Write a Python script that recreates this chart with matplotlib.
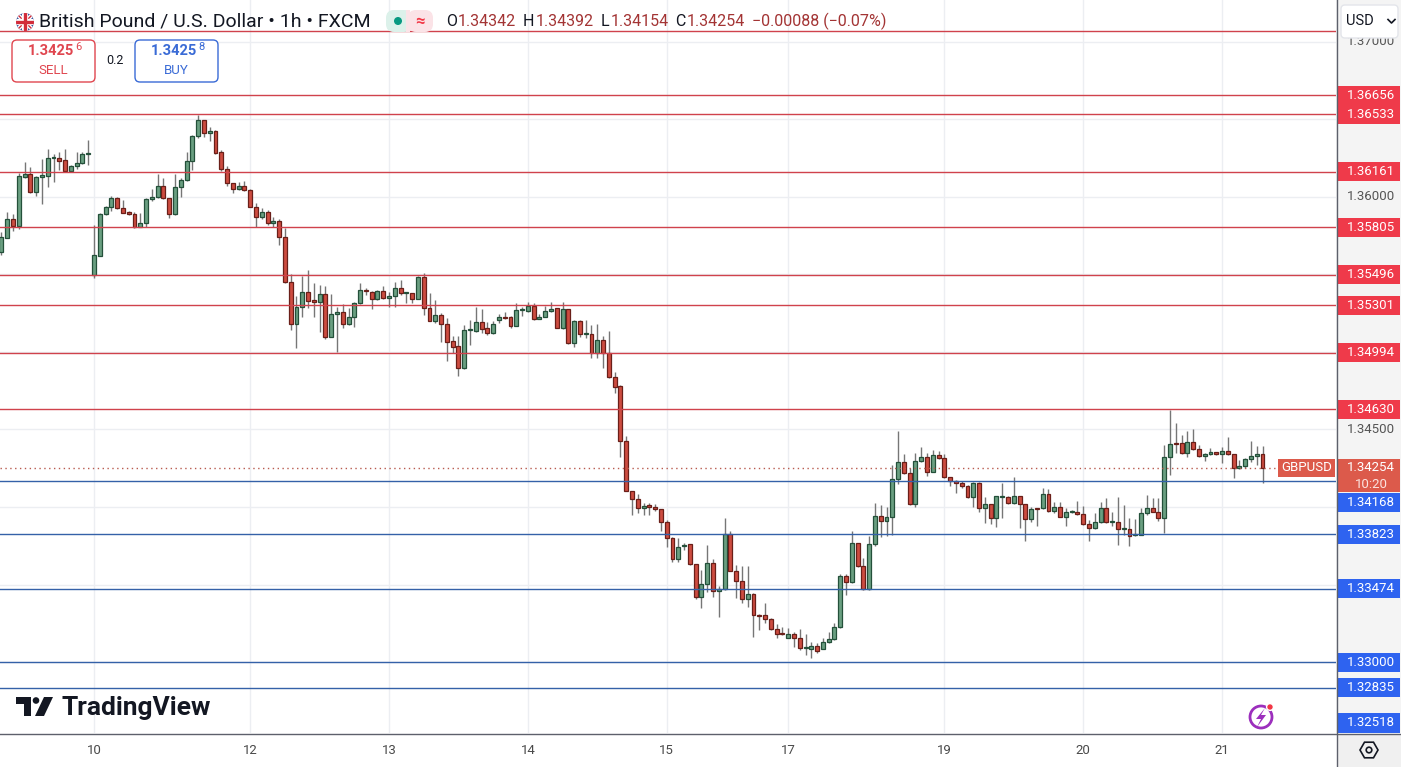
import numpy as np
import matplotlib
matplotlib.use("Agg")
import matplotlib.pyplot as plt
import matplotlib.transforms as mtransforms
from matplotlib.patches import Rectangle, FancyBboxPatch, Circle, Polygon, RegularPolygon

plt.rcParams['font.family'] = ['Roboto', 'DejaVu Sans']

# hourly candles, GBP/USD (FXCM)
opens = [
    1.35646, 1.35736, 1.35857, 1.35814, 1.36130, 1.36146, 1.36029, 1.36126, 1.36136, 1.36248,
    1.36248, 1.36235, 1.36168, 1.36199, 1.36216, 1.36279, 1.35496, 1.35621, 1.35887, 1.35936,
    1.35990, 1.35926, 1.35900, 1.35887, 1.35807, 1.35833, 1.35984, 1.35997, 1.36072, 1.35990,
    1.35887, 1.36065, 1.36106, 1.36233, 1.36392, 1.36495, 1.36409, 1.36424, 1.36287, 1.36178,
    1.36087, 1.36048, 1.36068, 1.36046, 1.35936, 1.35868, 1.35900, 1.35829, 1.35842, 1.35739,
    1.35449, 1.35178, 1.35291, 1.35388, 1.35335, 1.35321, 1.35373, 1.35098, 1.35243, 1.35256,
    1.35178, 1.35228, 1.35313, 1.35399, 1.35388, 1.35339, 1.35394, 1.35346, 1.35360, 1.35410,
    1.35378, 1.35378, 1.35339, 1.35481, 1.35281, 1.35201, 1.35238, 1.35178, 1.35070, 1.35039,
    1.34894, 1.35139, 1.35135, 1.35191, 1.35152, 1.35120, 1.35204, 1.35223, 1.35223, 1.35168,
    1.35268, 1.35266, 1.35296, 1.35214, 1.35228, 1.35266, 1.35281, 1.35152, 1.35275, 1.35055,
    1.35199, 1.35113, 1.35113, 1.34995, 1.35075, 1.34995, 1.34836, 1.34780, 1.34427, 1.34103,
    1.34050, 1.33992, 1.34011, 1.33998, 1.33985, 1.33901, 1.33798, 1.33662, 1.33748, 1.33759,
    1.33630, 1.33418, 1.33502, 1.33637, 1.33458, 1.33470, 1.33824, 1.33589, 1.33525, 1.33406,
    1.33437, 1.33302, 1.33302, 1.33276, 1.33211, 1.33186, 1.33153, 1.33181, 1.33158, 1.33089,
    1.33082, 1.33105, 1.33084, 1.33127, 1.33147, 1.33224, 1.33552, 1.33518, 1.33766, 1.33621,
    1.33469, 1.33759, 1.33944, 1.33910, 1.33937, 1.34179, 1.34288, 1.34217, 1.34017, 1.34296,
    1.34322, 1.34228, 1.34333, 1.34314, 1.34191, 1.34167, 1.34153, 1.34135, 1.34062, 1.34155,
    1.33992, 1.34017, 1.33927, 1.34066, 1.34066, 1.34024, 1.34071, 1.34017, 1.33920, 1.33992,
    1.33992, 1.34082, 1.33974, 1.33998, 1.33937, 1.33970, 1.33966, 1.33953, 1.33888, 1.33863,
    1.33901, 1.33992, 1.33905, 1.33905, 1.33856, 1.33856, 1.33820, 1.33820, 1.33963, 1.33992,
    1.33970, 1.33927, 1.34320, 1.34411, 1.34411, 1.34346, 1.34417, 1.34372, 1.34329, 1.34342,
    1.34353, 1.34340, 1.34363, 1.34340, 1.34250, 1.34266, 1.34307, 1.34329, 1.34342,
]
highs = [
    1.35775, 1.35904, 1.35889, 1.36155, 1.36226, 1.36194, 1.36136, 1.36244, 1.36308, 1.36276,
    1.36291, 1.36306, 1.36205, 1.36291, 1.36291, 1.36366, 1.35818, 1.35894, 1.35941, 1.36004,
    1.35997, 1.35979, 1.35909, 1.35900, 1.35894, 1.35990, 1.36053, 1.36147, 1.36119, 1.35994,
    1.36147, 1.36119, 1.36291, 1.36398, 1.36527, 1.36498, 1.36452, 1.36431, 1.36302, 1.36199,
    1.36089, 1.36097, 1.36102, 1.36050, 1.35958, 1.35926, 1.35915, 1.35868, 1.35855, 1.35797,
    1.35502, 1.35360, 1.35491, 1.35528, 1.35446, 1.35431, 1.35425, 1.35372, 1.35291, 1.35309,
    1.35285, 1.35324, 1.35446, 1.35410, 1.35393, 1.35399, 1.35425, 1.35388, 1.35452, 1.35463,
    1.35388, 1.35380, 1.35491, 1.35507, 1.35378, 1.35335, 1.35253, 1.35217, 1.35102, 1.35102,
    1.35173, 1.35206, 1.35291, 1.35277, 1.35195, 1.35199, 1.35245, 1.35256, 1.35232, 1.35313,
    1.35291, 1.35321, 1.35313, 1.35243, 1.35296, 1.35324, 1.35285, 1.35320, 1.35277, 1.35206,
    1.35206, 1.35206, 1.35173, 1.35180, 1.35102, 1.35135, 1.34868, 1.34787, 1.34458, 1.34106,
    1.34082, 1.34028, 1.34028, 1.34017, 1.33987, 1.33916, 1.33805, 1.33798, 1.33766, 1.33761,
    1.33632, 1.33594, 1.33755, 1.33662, 1.33493, 1.33927, 1.33846, 1.33626, 1.33621, 1.33621,
    1.33447, 1.33310, 1.33379, 1.33282, 1.33246, 1.33224, 1.33218, 1.33196, 1.33211, 1.33181,
    1.33127, 1.33125, 1.33157, 1.33192, 1.33250, 1.33570, 1.33570, 1.33843, 1.33768, 1.33673,
    1.33813, 1.34024, 1.34013, 1.33998, 1.34270, 1.34490, 1.34340, 1.34250, 1.34350, 1.34385,
    1.34346, 1.34368, 1.34361, 1.34342, 1.34195, 1.34174, 1.34169, 1.34142, 1.34163, 1.34159,
    1.34066, 1.34019, 1.34073, 1.34157, 1.34071, 1.34191, 1.34073, 1.34019, 1.34002, 1.33993,
    1.34120, 1.34114, 1.34034, 1.34034, 1.33992, 1.33981, 1.34040, 1.34006, 1.33916, 1.33959,
    1.34034, 1.34056, 1.33970, 1.34062, 1.34013, 1.33927, 1.33922, 1.33992, 1.34077, 1.34060,
    1.34056, 1.34400, 1.34625, 1.34543, 1.34464, 1.34490, 1.34501, 1.34400, 1.34346, 1.34378,
    1.34356, 1.34389, 1.34449, 1.34342, 1.34303, 1.34318, 1.34427, 1.34393, 1.34392,
]
lows = [
    1.35625, 1.35732, 1.35781, 1.35792, 1.36119, 1.36023, 1.36007, 1.35954, 1.36065, 1.36097,
    1.36173, 1.36158, 1.36162, 1.36179, 1.36211, 1.36205, 1.35475, 1.35619, 1.35883, 1.35910,
    1.35919, 1.35894, 1.35883, 1.35797, 1.35805, 1.35807, 1.35973, 1.35990, 1.35984, 1.35861,
    1.35883, 1.36001, 1.36104, 1.36173, 1.36377, 1.36384, 1.36362, 1.36274, 1.36168, 1.36072,
    1.36025, 1.36046, 1.36039, 1.35932, 1.35807, 1.35855, 1.35818, 1.35807, 1.35689, 1.35445,
    1.35141, 1.35023, 1.35228, 1.35281, 1.35228, 1.35130, 1.35085, 1.35094, 1.35001, 1.35152,
    1.35173, 1.35162, 1.35309, 1.35367, 1.35279, 1.35335, 1.35339, 1.35291, 1.35287, 1.35367,
    1.35313, 1.35313, 1.35338, 1.35238, 1.35199, 1.35188, 1.35066, 1.34943, 1.34995, 1.34845,
    1.34889, 1.35045, 1.35130, 1.35124, 1.35111, 1.35115, 1.35185, 1.35210, 1.35156, 1.35167,
    1.35232, 1.35259, 1.35206, 1.35210, 1.35223, 1.35259, 1.35151, 1.35150, 1.35049, 1.35034,
    1.35098, 1.35092, 1.34959, 1.34962, 1.34894, 1.34833, 1.34733, 1.34320, 1.34100, 1.33948,
    1.33959, 1.33948, 1.33948, 1.33976, 1.33847, 1.33744, 1.33643, 1.33643, 1.33723, 1.33627,
    1.33407, 1.33351, 1.33454, 1.33418, 1.33290, 1.33466, 1.33587, 1.33411, 1.33380, 1.33353,
    1.33163, 1.33207, 1.33250, 1.33207, 1.33158, 1.33175, 1.33152, 1.33099, 1.33078, 1.33047,
    1.33024, 1.33057, 1.33082, 1.33125, 1.33142, 1.33218, 1.33433, 1.33508, 1.33615, 1.33467,
    1.33465, 1.33748, 1.33805, 1.33813, 1.33820, 1.34148, 1.34213, 1.34011, 1.34002, 1.34292,
    1.34202, 1.34226, 1.34307, 1.34185, 1.34135, 1.34092, 1.34120, 1.34056, 1.33998, 1.33970,
    1.33899, 1.33890, 1.33873, 1.33931, 1.34019, 1.34022, 1.33863, 1.33783, 1.33905, 1.33877,
    1.33985, 1.33970, 1.33959, 1.33934, 1.33877, 1.33959, 1.33948, 1.33884, 1.33783, 1.33856,
    1.33899, 1.33899, 1.33877, 1.33755, 1.33819, 1.33750, 1.33815, 1.33818, 1.33948, 1.33966,
    1.33912, 1.33834, 1.34206, 1.34350, 1.34342, 1.34320, 1.34367, 1.34324, 1.34298, 1.34335,
    1.34335, 1.34286, 1.34335, 1.34188, 1.34245, 1.34253, 1.34292, 1.34271, 1.34154,
]
closes = [
    1.35743, 1.35857, 1.35814, 1.36134, 1.36146, 1.36029, 1.36126, 1.36141, 1.36248, 1.36250,
    1.36233, 1.36168, 1.36199, 1.36216, 1.36279, 1.36281, 1.35625, 1.35887, 1.35936, 1.35990,
    1.35926, 1.35898, 1.35887, 1.35807, 1.35833, 1.35984, 1.35997, 1.36072, 1.35990, 1.35887,
    1.36065, 1.36106, 1.36233, 1.36392, 1.36495, 1.36409, 1.36424, 1.36285, 1.36178, 1.36087,
    1.36048, 1.36068, 1.36042, 1.35936, 1.35868, 1.35900, 1.35829, 1.35842, 1.35739, 1.35449,
    1.35178, 1.35291, 1.35388, 1.35330, 1.35321, 1.35373, 1.35098, 1.35243, 1.35256, 1.35178,
    1.35228, 1.35313, 1.35399, 1.35393, 1.35339, 1.35394, 1.35346, 1.35360, 1.35410, 1.35378,
    1.35380, 1.35339, 1.35481, 1.35281, 1.35201, 1.35238, 1.35178, 1.35066, 1.35034, 1.34894,
    1.35139, 1.35141, 1.35191, 1.35150, 1.35120, 1.35178, 1.35223, 1.35221, 1.35168, 1.35268,
    1.35270, 1.35296, 1.35214, 1.35228, 1.35266, 1.35278, 1.35152, 1.35275, 1.35055, 1.35199,
    1.35113, 1.35115, 1.34995, 1.35075, 1.34995, 1.34836, 1.34776, 1.34427, 1.34103, 1.34050,
    1.33992, 1.34009, 1.33998, 1.33985, 1.33901, 1.33798, 1.33662, 1.33744, 1.33757, 1.33630,
    1.33418, 1.33502, 1.33637, 1.33458, 1.33470, 1.33824, 1.33589, 1.33525, 1.33406, 1.33437,
    1.33302, 1.33300, 1.33276, 1.33211, 1.33179, 1.33184, 1.33179, 1.33158, 1.33089, 1.33091,
    1.33105, 1.33073, 1.33127, 1.33147, 1.33224, 1.33552, 1.33518, 1.33766, 1.33621, 1.33469,
    1.33759, 1.33944, 1.33910, 1.33937, 1.34179, 1.34288, 1.34217, 1.34017, 1.34296, 1.34322,
    1.34228, 1.34333, 1.34314, 1.34191, 1.34167, 1.34153, 1.34135, 1.34062, 1.34155, 1.33992,
    1.34017, 1.33927, 1.34071, 1.34068, 1.34024, 1.34071, 1.34017, 1.33920, 1.33985, 1.33990,
    1.34082, 1.33974, 1.33998, 1.33937, 1.33970, 1.33974, 1.33953, 1.33888, 1.33863, 1.33901,
    1.33992, 1.33901, 1.33907, 1.33856, 1.33858, 1.33813, 1.33822, 1.33963, 1.33992, 1.33970,
    1.33927, 1.34320, 1.34406, 1.34409, 1.34346, 1.34417, 1.34372, 1.34329, 1.34342, 1.34353,
    1.34340, 1.34363, 1.34340, 1.34250, 1.34266, 1.34307, 1.34329, 1.34342, 1.34254,
]

day_labels = ['10', '12', '13', '14', '15', '17', '19', '20', '21']
day_start = [16, 43, 67, 91, 115, 136, 163, 187, 211]   # candle index where each day starts

resistance = [1.36656, 1.36533, 1.36161, 1.35805, 1.35496, 1.35301, 1.34994, 1.34630]
support = [1.34168, 1.33823, 1.33474, 1.33000, 1.32835, 1.32518]
top_line = 1.37066          # red line with no visible price label
last_price = 1.34254
countdown = '10:20'
header_ohlc = [('O', '1.34342'), ('H', '1.34392'), ('L', '1.34154'), ('C', '1.34254')]
header_change = '\u22120.00088 (\u22120.07%)'
sell_quote = ('1.3425', '6')
buy_quote = ('1.3425', '8')
spread = '0.2'

W, H = 1401, 767
PW, PH = 1336, 733
ymin, ymax = 1.325426, 1.37269
k = (ymax - ymin) / PH        # price per pixel

GREEN, GREEN_EDGE = '#6a9f81', '#24503a'
RED, RED_EDGE = '#cd4c40', '#6a1f19'
LINE_RED, LINE_BLUE = '#d0424c', '#3461a8'
BOX_RED, BOX_BLUE, BOX_LAST = '#ef3a4a', '#2e63f0', '#dc5a4b'
TXT = '#131722'

fig = plt.figure(figsize=(W / 100, H / 100), dpi=100, facecolor='white')
ax = fig.add_axes([0, (H - PH) / H, PW / W, PH / H])
ax.set_xlim(-0.25, 230.7)
ax.set_ylim(ymin, ymax)
ax.axis('off')

# grid
for p in np.arange(1.325, 1.3726, 0.005):
    ax.axhline(p, color='#eceef2', lw=1, zorder=0)
for d in day_start:
    ax.axvline(d, color='#eceef2', lw=1, zorder=0)

# candles
o, hi, lo, c = map(np.array, (opens, highs, lows, closes))
idx = np.arange(len(o))
up = c >= o
ax.vlines(idx, lo, hi, colors='#767676', lw=1, zorder=2)
ax.bar(idx, np.maximum(np.abs(c - o), k), bottom=np.minimum(o, c), width=0.68,
       color=[GREEN if u else RED for u in up],
       edgecolor=[GREEN_EDGE if u else RED_EDGE for u in up], linewidth=0.9, zorder=3)

# horizontal levels
ax.axhline(top_line, color=LINE_RED, lw=1, zorder=4)
for p in resistance:
    ax.axhline(p, color=LINE_RED, lw=1, zorder=4)
for p in support:
    ax.axhline(p, color=LINE_BLUE, lw=1, zorder=4)
ax.axhline(last_price, color='#b85a4e', lw=1, ls=(0, (1, 2.5)), zorder=4)

# symbol tag left of the price scale
bt = mtransforms.blended_transform_factory(ax.transAxes, ax.transData)
ax.add_patch(Rectangle((1278 / PW, last_price - 9.5 * k), 57 / PW, 18.5 * k, transform=bt,
                       fc=BOX_LAST, ec='none', zorder=6, clip_on=False))
ax.text(1306.5 / PW, last_price, 'GBPUSD', transform=bt, ha='center', va='center',
        color='white', fontsize=9.5, zorder=7, clip_on=False)

# day labels under the plot
xt = mtransforms.blended_transform_factory(ax.transData, ax.transAxes)
for d, lab in zip(day_start, day_labels):
    ax.text(d, -17 / PH, lab, transform=xt, ha='center', va='center', fontsize=9.5,
            color='#4a4a4a', clip_on=False)

# price scale
pax = fig.add_axes([PW / W, (H - PH) / H, (W - PW) / W, PH / H])
pax.set_xlim(0, W - PW)
pax.set_ylim(ymin, ymax)
pax.set_facecolor('#f4f4f4')
for s in pax.spines.values():
    s.set_visible(False)
pax.set_xticks([])
pax.set_yticks([])

# label placement: push down when overlapping, clamp at bottom
last_top, last_bot = last_price + 9 * k, last_price - 24.5 * k
labels = [(p, BOX_RED) for p in resistance] + [(p, BOX_BLUE) for p in support]
labels.sort(key=lambda t: -t[0])
placed = []
prev = None
for p, col in labels:
    yc = p
    if last_bot - 9.5 * k < yc < last_top + 9.5 * k:
        yc = last_bot - 10 * k
    if prev is not None and prev - yc < 19 * k:
        yc = prev - 19 * k
    yc = max(yc, ymin + 10 * k)
    placed.append((p, yc, col))
    prev = yc

for p in np.arange(1.325, 1.3726, 0.005):
    near = any(abs(p - yc) < 16 * k for _, yc, _ in placed)
    if near or (last_bot - 8 * k < p < last_top + 8 * k) or p < ymin:
        continue
    pax.text(35, p, f'{p:.5f}', ha='center', va='center', fontsize=9.5, color='#555555')

for p, yc, col in placed:
    pax.add_patch(Rectangle((1, yc - 9.5 * k), 63, 19 * k, fc=col, ec='none', zorder=3))
    pax.text(35, yc, f'{p:.5f}', ha='center', va='center', fontsize=9.5, color='white', zorder=4)

pax.add_patch(Rectangle((1, last_bot), 63, last_top - last_bot, fc=BOX_LAST, ec='none', zorder=3))
pax.text(35, last_price, f'{last_price:.5f}', ha='center', va='center', fontsize=9.5,
         color='white', zorder=4)
pax.text(35, last_price - 16.5 * k, countdown, ha='center', va='center', fontsize=9.5,
         color='#fbe3df', zorder=4)

# pixel overlay for the chrome
ov = fig.add_axes([0, 0, 1, 1], zorder=10)
ov.set_xlim(0, W)
ov.set_ylim(H, 0)
ov.axis('off')

ov.add_patch(Rectangle((PW + 1, PH + 1), W - PW, H - PH, fc='#f0f0f0', ec='none'))
ov.plot([0, W], [PH + 0.5, PH + 0.5], color='#5d606b', lw=1)
ov.plot([PW + 0.5, PW + 0.5], [0, H], color='#5d606b', lw=1)

# currency button
ov.add_patch(FancyBboxPatch((1341, 5), 57, 33, boxstyle='round,pad=0,rounding_size=4',
                            fc='white', ec='#e3e5ea', lw=1))
ov.text(1346, 21, 'USD', ha='left', va='center', fontsize=10.5, color=TXT)
ov.plot([1388, 1391.5, 1395], [19.5, 23, 19.5], color=TXT, lw=1.2)

# settings icon
ov.add_patch(RegularPolygon((1369, 750), 6, radius=9, orientation=np.pi / 6,
                            fc='none', ec=TXT, lw=1.2))
ov.add_patch(Circle((1369, 750), 2.8, fc='none', ec=TXT, lw=1.2))

# flag
flag = Circle((25, 22), 9, fc='#25408f', ec='none')
ov.add_patch(flag)
for xs, ys, col, lw in [([16, 34], [13, 31], 'white', 3), ([16, 34], [31, 13], 'white', 3),
                        ([16, 34], [13, 31], '#d22b3a', 1), ([16, 34], [31, 13], '#d22b3a', 1),
                        ([25, 25], [12, 32], 'white', 4.5), ([15, 35], [22, 22], 'white', 4.5),
                        ([25, 25], [12, 32], '#d22b3a', 2.4), ([15, 35], [22, 22], '#d22b3a', 2.4)]:
    ln, = ov.plot(xs, ys, color=col, lw=lw, solid_capstyle='butt')
    ln.set_clip_path(flag)

ov.text(39, 21, 'British Pound / U.S. Dollar \u2022 1h \u2022 FXCM', ha='left', va='center',
        fontsize=14, color=TXT)

# market status pill
ov.add_patch(FancyBboxPatch((386, 10), 26, 22, boxstyle='round,pad=0,rounding_size=8',
                            fc='#dcf1ea', ec='none'))
ov.add_patch(FancyBboxPatch((408, 10), 25, 22, boxstyle='round,pad=0,rounding_size=8',
                            fc='#fbe3e7', ec='none'))
ov.add_patch(Rectangle((406, 10), 4, 22, fc='#fbe3e7', ec='none'))
ov.add_patch(Circle((398, 21), 4, fc='#089981', ec='none'))
ov.text(420, 21, '\u2248', ha='center', va='center', fontsize=12, color='#f23645',
        fontweight='bold')

# OHLC readout
renderer = fig.canvas.get_renderer()
x = 446
for lab, val in header_ohlc:
    t = ov.text(x, 21, lab, ha='left', va='center', fontsize=11.5, color=TXT)
    x += t.get_window_extent(renderer).width + 1
    t = ov.text(x, 21, val, ha='left', va='center', fontsize=11.5, color='#a33434')
    x += t.get_window_extent(renderer).width + 7
ov.text(x, 21, header_change, ha='left', va='center', fontsize=11.5, color='#a33434')

# sell / buy buttons
for x0, col, quote, lab in [(12, '#e0464f', sell_quote, 'SELL'), (135, '#3a6bd6', buy_quote, 'BUY')]:
    ov.add_patch(FancyBboxPatch((x0, 40), 83, 42, boxstyle='round,pad=0,rounding_size=5',
                                fc='white', ec=col, lw=1))
    ov.text(x0 + 62, 51, quote[0], ha='right', va='center', fontsize=10.5, color=col,
            fontweight='bold')
    ov.text(x0 + 63, 47, quote[1], ha='left', va='center', fontsize=8, color=col)
    ov.text(x0 + 41.5, 70, lab, ha='center', va='center', fontsize=9.5, color=col)
ov.text(115, 61, spread, ha='center', va='center', fontsize=9, color=TXT)

# TradingView logo
ov.add_patch(Polygon([(16, 697), (31, 697), (31, 716), (23.5, 716), (23.5, 704), (16, 704)],
                     closed=True, fc=TXT, ec='none'))
ov.add_patch(Circle((36, 700.5), 3.3, fc=TXT, ec='none'))
ov.add_patch(Polygon([(35, 716), (44, 716), (53, 697), (44, 697)], closed=True, fc=TXT, ec='none'))
ov.text(61, 708, 'TradingView', ha='left', va='center', fontsize=19, fontweight='bold', color=TXT)

# alerts icon
ov.add_patch(Circle((1261, 717), 11, fc='none', ec='#9c2fbd', lw=2))
ov.add_patch(Polygon([(1265, 708), (1256, 719), (1261, 719), (1257, 727), (1266, 715), (1261, 715)],
                     closed=True, fc='#9c2fbd', ec='none'))
ov.add_patch(Circle((1270, 707), 3.4, fc='#f23645', ec='white', lw=1))

fig.savefig('out.png', dpi=100, facecolor='white')
